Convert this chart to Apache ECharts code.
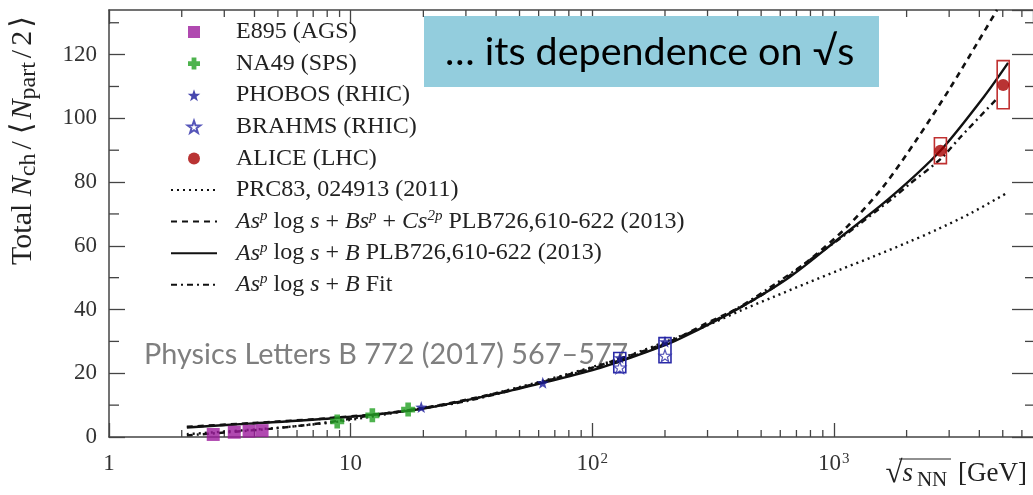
<!DOCTYPE html>
<html>
<head>
<meta charset="utf-8">
<script src="https://cdn.jsdelivr.net/npm/echarts@6/dist/echarts.min.js"></script>
<style>
  html, body { margin: 0; padding: 0; background: #ffffff; }
  #chart { width: 1033px; height: 495px; }
</style>
</head>
<body>
<div id="chart"></div>
<script>
// ---- Measurements: sqrt(s_NN) [GeV] and total N_ch / <N_part/2> ----
const e895Energy = [2.7, 3.3, 3.8, 4.3];
const e895Value  = [0.8, 1.5, 1.8, 2.0];
const na49Energy = [8.8, 12.3, 17.3];
const na49Value  = [4.9, 6.8, 8.6];
const phobosEnergy = [19.6, 62.4, 130, 200];
const phobosValue  = [9.4, 17.0, 24.9, 29.9];
const brahmsEnergy = [130, 200];
const brahmsValue  = [21.8, 25.5];
const aliceEnergy = [2760, 5020];
const aliceValue  = [89.8, 110.5];

// ---- Systematic uncertainty boxes (low / high edge) ----
const rhicBoxEnergy = [130, 200];
const rhicBoxLow    = [20.2, 23.3];
const rhicBoxHigh   = [26.5, 31.2];
const aliceBoxEnergy = [2760, 5020];
const aliceBoxLow    = [85.8, 103.0];
const aliceBoxHigh   = [93.9, 118.1];

// ---- Parametrisations ----
const prcEnergy = [2.1, 3, 5, 8.4, 12, 18.8, 30, 62.4, 130, 216, 299, 409, 560, 774, 1061, 1453, 2010, 2674, 3700, 5210];
const prcValue  = [0.9, 1.7, 2.9, 4.6, 6.3, 8.8, 11.5, 17.6, 24.6, 30.8, 35.0, 39.6, 43.9, 48.3, 52.5, 56.6, 61.0, 65.1, 70.3, 76.6];

const fit3Energy = [2.1, 3.8, 8.4, 18.8, 62.4, 200, 299, 437, 599, 820, 1135, 1599, 2208, 3027, 3920, 4735];
const fit3Value  = [3.2, 4.3, 6.0, 8.7, 17.3, 29.3, 35.8, 41.8, 48.4, 56.5, 66.0, 78.5, 93.5, 109.5, 123.6, 134];

const fit2Energy = [2.1, 3.8, 8.4, 18.8, 41.5, 62.4, 108, 200, 254, 409, 659, 1061, 1709, 2740, 4180, 5260];
const fit2Value  = [3.0, 4.2, 5.9, 8.6, 13.8, 17.0, 21.7, 28.8, 32.4, 40.6, 50.3, 62.6, 75.1, 89.6, 106.8, 117.4];

const fitEnergy = [2.1, 3, 5, 8.4, 11.7, 18.8, 30, 62.4, 130, 200, 409, 1061, 1709, 2067, 2760, 3330, 4790];
const fitValue  = [0.5, 1.4, 2.8, 4.8, 6.6, 8.8, 11.2, 17.3, 24.0, 29.2, 40.9, 62.3, 74.3, 79.5, 87.2, 94.0, 106.6];

// ---- Axis ticks ----
const xMinorTicks = [2, 3, 4, 5, 6, 7, 8, 9, 20, 30, 40, 50, 60, 70, 80, 90,
                     200, 300, 400, 500, 600, 700, 800, 900, 2000, 3000, 4000, 5000, 6000];
const yMinorTicks = [10, 30, 50, 70, 90, 110, 130];

const X_MIN = 1, X_MAX = 6670, Y_MIN = 0, Y_MAX = 134;
const SERIF = '"Liberation Serif", "DejaVu Serif", serif';
const SANS = 'Lato, "Open Sans", sans-serif';
const AXIS_COLOR = '#444';
const INK = '#222';

const pairs = (xs, ys) => xs.map((x, i) => [x, ys[i]]);
const boxes = (xs, lo, hi) => xs.map((x, i) => [x, lo[i], hi[i]]);

const STAR = 'path://M0,-10L2.35,-3.24L9.51,-3.09L3.8,1.24L5.88,8.09L0,4.1L-5.88,8.09L-3.8,1.24L-9.51,-3.09L-2.35,-3.24Z';
const PLUS = 'path://M-1.2,-3H1.2V-1.2H3V1.2H1.2V3H-1.2V1.2H-3V-1.2H-1.2Z';
const SQUARE = 'path://M0,0H10V10H0Z';

const NAME_PRC  = 'PRC83, 024913 (2011)';
const NAME_FIT3 = 'As^p log s + Bs^p + Cs^2p PLB726,610-622 (2013)';
const NAME_FIT2 = 'As^p log s + B PLB726,610-622 (2013)';
const NAME_FIT  = 'As^p log s + B Fit';

const legendRich = {
  [NAME_FIT3]: '{i|As}{sup|p} log {i|s} + {i|Bs}{sup|p} + {i|Cs}{sup|2p} PLB726,610-622 (2013)',
  [NAME_FIT2]: '{i|As}{sup|p} log {i|s} + {i|B} PLB726,610-622 (2013)',
  [NAME_FIT]:  '{i|As}{sup|p} log {i|s} + {i|B} Fit'
};

function minorX(params, api) {
  const v = api.value(0);
  const b = api.coord([v, Y_MIN]);
  const t = api.coord([v, Y_MAX]);
  const st = { stroke: AXIS_COLOR, lineWidth: 1.3 };
  return { type: 'group', children: [
    { type: 'line', shape: { x1: b[0], y1: b[1], x2: b[0], y2: b[1] - 7 }, style: st },
    { type: 'line', shape: { x1: t[0], y1: t[1], x2: t[0], y2: t[1] + 7 }, style: st }
  ]};
}
function minorY(params, api) {
  const v = api.value(1);
  const l = api.coord([X_MIN, v]);
  const r = api.coord([X_MAX, v]);
  const st = { stroke: AXIS_COLOR, lineWidth: 1.3 };
  return { type: 'group', children: [
    { type: 'line', shape: { x1: l[0], y1: l[1], x2: l[0] + 10, y2: l[1] }, style: st },
    { type: 'line', shape: { x1: r[0], y1: r[1], x2: r[0] - 8, y2: r[1] }, style: st }
  ]};
}
function sysBox(color) {
  return function (params, api) {
    const lo = api.coord([api.value(0), api.value(1)]);
    const hi = api.coord([api.value(0), api.value(2)]);
    return { type: 'rect',
      shape: { x: lo[0] - 6, y: hi[1], width: 12, height: lo[1] - hi[1] },
      style: { fill: 'none', stroke: color, lineWidth: 1.6 } };
  };
}

const xLabelFmt = v => {
  const p = Math.round(Math.log10(v));
  return p <= 1 ? String(Math.round(v)) : '10{sup|' + p + '}';
};

const lineSeries = (name, xs, ys, type, width) => ({
  name, type: 'line', data: pairs(xs, ys), smooth: 0.3,
  symbol: 'none', showSymbol: false, z: 2, clip: true,
  itemStyle: { color: 'rgba(0,0,0,0)', borderWidth: 0 },
  lineStyle: { color: '#111', width, type, cap: 'butt' }
});

const chart = echarts.init(document.getElementById('chart'));
chart.setOption({
  animation: false,
  grid: { left: 109, top: 10, right: 0, bottom: 58 },
  xAxis: [
    { type: 'log', logBase: 10, min: X_MIN, max: X_MAX, position: 'bottom',
      axisLine: { onZero: false, lineStyle: { color: AXIS_COLOR, width: 1.5 } },
      axisTick: { inside: true, length: 14, lineStyle: { color: AXIS_COLOR, width: 1.3 } },
      axisLabel: { margin: 15, fontFamily: SERIF, fontSize: 23, color: '#333', showMaxLabel: false,
        formatter: xLabelFmt,
        rich: { sup: { fontFamily: SERIF, fontSize: 15, color: '#333', verticalAlign: 'top', padding: [0, 0, 0, 1] } } },
      splitLine: { show: false } },
    { type: 'log', logBase: 10, min: X_MIN, max: X_MAX, position: 'top',
      axisLine: { onZero: false, lineStyle: { color: AXIS_COLOR, width: 1.5 } },
      axisTick: { inside: true, length: 14, lineStyle: { color: AXIS_COLOR, width: 1.3 } },
      axisLabel: { show: false }, splitLine: { show: false } }
  ],
  yAxis: [
    { type: 'value', min: Y_MIN, max: Y_MAX, interval: 20, position: 'left',
      axisLine: { show: true, onZero: false, lineStyle: { color: AXIS_COLOR, width: 1.5 } },
      axisTick: { inside: true, length: 16, lineStyle: { color: AXIS_COLOR, width: 1.3 } },
      axisLabel: { margin: 12, fontFamily: SERIF, fontSize: 23, color: '#333', showMaxLabel: false },
      splitLine: { show: false } },
    { type: 'value', min: Y_MIN, max: Y_MAX, interval: 20, position: 'right',
      axisLine: { show: false },
      axisTick: { show: true, inside: true, length: 21, lineStyle: { color: AXIS_COLOR, width: 1.3 } },
      axisLabel: { show: false }, splitLine: { show: false } }
  ],
  legend: {
    orient: 'vertical', left: 165, top: 14, itemWidth: 46, itemHeight: 12, itemGap: 5.6,
    selectedMode: false,
    data: ['E895 (AGS)', 'NA49 (SPS)', 'PHOBOS (RHIC)', 'BRAHMS (RHIC)', 'ALICE (LHC)',
           NAME_PRC, NAME_FIT3, NAME_FIT2, NAME_FIT],
    formatter: name => '{gap| }' + (legendRich[name] || name),
    textStyle: { fontFamily: SERIF, fontSize: 24, color: INK, lineHeight: 26,
      rich: {
        gap: { width: 14 },
        i: { fontFamily: SERIF, fontStyle: 'italic', fontSize: 24, color: INK, lineHeight: 26 },
        sup: { fontFamily: SERIF, fontStyle: 'italic', fontSize: 15, color: INK, lineHeight: 26, verticalAlign: 'top' }
      } }
  },
  graphic: [
    { type: 'text', x: 144, y: 355, z: 0,
      style: { text: 'Physics Letters B 772 (2017) 567–577', font: '28.8px ' + SANS, fill: '#7f7f7f', textVerticalAlign: 'middle' } },
    { type: 'rect', z: 10, shape: { x: 424, y: 16, width: 455, height: 71 }, style: { fill: '#93cddd' } },
    { type: 'text', z: 11, x: 445, y: 52,
      style: { text: '… its dependence on √s', font: '39.5px ' + SANS, fill: '#000', textVerticalAlign: 'middle' } },
    { type: 'text', z: 5, x: 23, y: 139, rotation: Math.PI / 2,
      style: { text: '{n|Total }{i|N}{sub|ch}{op|/}{br|⟨}{i|N}{sub|part}{op|/}{n|2}{br|⟩}', align: 'center', verticalAlign: 'middle',
        rich: {
          n: { fontFamily: SERIF, fontSize: 30, fill: INK, lineHeight: 36 },
          op: { fontFamily: SERIF, fontSize: 30, fill: INK, lineHeight: 36, padding: [0, 4, 0, 4] },
          br: { fontFamily: SERIF, fontSize: 30, fill: INK, lineHeight: 36, padding: [0, 3, 0, 3] },
          i: { fontFamily: SERIF, fontStyle: 'italic', fontSize: 30, fill: INK, lineHeight: 36 },
          sub: { fontFamily: SERIF, fontSize: 24, fill: INK, lineHeight: 36, verticalAlign: 'bottom' }
        } } },
    { type: 'text', z: 5, x: 1027, y: 474,
      style: { text: '{sq|√}{i|s}{sub|NN}{r| [GeV]}', align: 'right', verticalAlign: 'middle',
        rich: {
          sq: { fontFamily: SERIF, fontSize: 31, fill: INK, lineHeight: 34 },
          r: { fontFamily: SERIF, fontSize: 27, fill: INK, lineHeight: 34 },
          i: { fontFamily: SERIF, fontStyle: 'italic', fontSize: 27, fill: INK, lineHeight: 34 },
          sub: { fontFamily: SERIF, fontSize: 21, fill: INK, lineHeight: 34, verticalAlign: 'bottom', padding: [0, 4, 0, 4] }
        } } },
    { type: 'line', z: 5, shape: { x1: 899, y1: 459, x2: 951, y2: 459 }, style: { stroke: INK, lineWidth: 1.2 } }
  ],
  series: [
    { type: 'custom', name: 'xminor', data: xMinorTicks.map(v => [v, Y_MIN]), renderItem: minorX, silent: true, clip: false, z: 1 },
    { type: 'custom', name: 'yminor', data: yMinorTicks.map(v => [X_MIN, v]), renderItem: minorY, silent: true, clip: false, z: 1 },
    lineSeries(NAME_PRC, prcEnergy, prcValue, [2, 4], 2.4),
    lineSeries(NAME_FIT3, fit3Energy, fit3Value, [6, 5], 2.6),
    lineSeries(NAME_FIT2, fit2Energy, fit2Value, 'solid', 2.4),
    lineSeries(NAME_FIT, fitEnergy, fitValue, [6, 4, 2, 4], 2.4),
    { type: 'custom', name: 'rhicSys', data: boxes(rhicBoxEnergy, rhicBoxLow, rhicBoxHigh), renderItem: sysBox('#2a2aa8'), silent: true, z: 3 },
    { type: 'custom', name: 'aliceSys', data: boxes(aliceBoxEnergy, aliceBoxLow, aliceBoxHigh), renderItem: sysBox('#c03030'), silent: true, z: 3 },
    { name: 'E895 (AGS)', type: 'scatter', data: pairs(e895Energy, e895Value), symbol: SQUARE, symbolSize: 13, z: 4,
      itemStyle: { color: '#9c1c9c' } },
    { name: 'NA49 (SPS)', type: 'scatter', data: pairs(na49Energy, na49Value), symbol: PLUS, symbolSize: 14, z: 4,
      itemStyle: { color: '#22a022' } },
    { name: 'PHOBOS (RHIC)', type: 'scatter', data: pairs(phobosEnergy, phobosValue), symbol: STAR, symbolSize: 12, z: 4,
      itemStyle: { color: '#1a1a9a' } },
    { name: 'BRAHMS (RHIC)', type: 'scatter', data: pairs(brahmsEnergy, brahmsValue), symbol: STAR, symbolSize: 12, z: 4,
      itemStyle: { color: '#ffffff', borderColor: '#2a2aa8', borderWidth: 1.2 } },
    { name: 'ALICE (LHC)', type: 'scatter', data: pairs(aliceEnergy, aliceValue), symbol: 'circle', symbolSize: 12, z: 4,
      itemStyle: { color: '#a80000' } }
  ]
});
</script>
</body>
</html>
